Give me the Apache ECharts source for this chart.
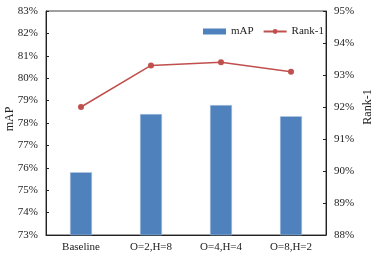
<!DOCTYPE html>
<html><head><meta charset="utf-8">
<script src="https://cdn.jsdelivr.net/npm/echarts@6/dist/echarts.min.js"></script>
<style>html,body{margin:0;padding:0;background:#fff}#c{width:378px;height:256px}</style>
</head><body><div id="c"></div>
<script>
const categories = ['Baseline', 'O=2,H=8', 'O=4,H=4', 'O=8,H=2'];
const mAP = [75.8, 78.4, 78.8, 78.3];
const rank1 = [92.0, 93.3, 93.4, 93.1];
const font = '"Liberation Serif", "Times New Roman", serif';
const chart = echarts.init(document.getElementById('c'));
chart.setOption({
  animation: false,
  textStyle: {fontFamily: font},
  grid: {left: 46, right: 52, top: 11, bottom: 21, show: true, borderColor: '#404040', borderWidth: 1,
         containLabel: false, outerBoundsMode: 'none'},
  legend: {
    top: 21, left: 198, itemGap: 9, itemWidth: 23, itemHeight: 6,
    textStyle: {fontFamily: font, fontSize: 11, color: '#222'},
    data: [{name: 'mAP', icon: 'rect', itemStyle: {borderWidth: 0}}, {name: 'Rank-1'}]
  },
  xAxis: {
    type: 'category', data: categories,
    axisLine: {lineStyle: {color: '#222'}},
    axisTick: {show: false},
    axisLabel: {fontFamily: font, fontSize: 11, color: '#222', margin: 7}
  },
  yAxis: [
    {type: 'value', min: 73, max: 83, interval: 1, name: 'mAP', nameLocation: 'middle', nameGap: 30,
     nameMoveOverlap: false,
     nameTextStyle: {fontFamily: font, fontSize: 12, color: '#222', padding: [0, 0, 0, 8]},
     axisLine: {show: true, lineStyle: {color: '#222'}},
     axisTick: {show: true, inside: true, length: 3, lineStyle: {color: '#222'}},
     splitLine: {show: false},
     axisLabel: {fontFamily: font, fontSize: 11, color: '#222', margin: 8, formatter: v => v + '%'}},
    {type: 'value', min: 88, max: 95, interval: 1, name: 'Rank-1', nameLocation: 'middle', nameGap: 36,
     nameRotate: 90, nameMoveOverlap: false,
     nameTextStyle: {fontFamily: font, fontSize: 12, color: '#222', padding: [0, 0, 0, 32]},
     axisLine: {show: true, lineStyle: {color: '#222'}},
     axisTick: {show: true, inside: true, length: 3, lineStyle: {color: '#222'}},
     splitLine: {show: false},
     axisLabel: {fontFamily: font, fontSize: 11, color: '#222', margin: 8, formatter: v => v + '%'}}
  ],
  series: [
    {name: 'mAP', type: 'bar', data: mAP, barWidth: 22, yAxisIndex: 0,
     itemStyle: {color: '#4F81BD', borderColor: '#B8CCE4', borderWidth: 0.5}},
    {name: 'Rank-1', type: 'line', data: rank1, yAxisIndex: 1, symbol: 'circle', symbolSize: 6,
     lineStyle: {color: '#C0504D', width: 1.5}, itemStyle: {color: '#C0504D'}}
  ]
});
</script></body></html>
